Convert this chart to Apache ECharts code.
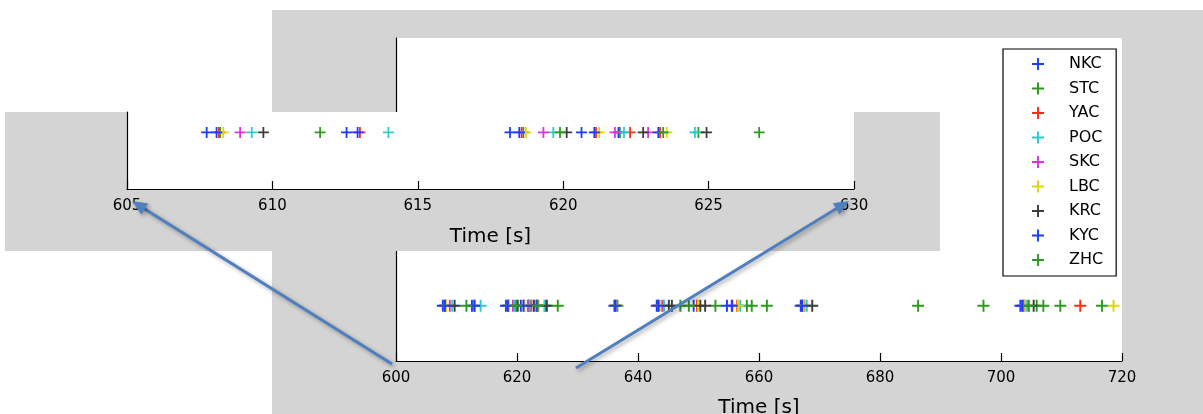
<!DOCTYPE html>
<html>
<head>
<meta charset="utf-8">
<title>Arrival times</title>
<script src="https://cdn.jsdelivr.net/npm/echarts@6/dist/echarts.min.js"></script>
<style>
  html, body { margin: 0; padding: 0; background: #fff; }
  #chart { width: 1203px; height: 414px; }
</style>
</head>
<body>
<div id="chart"></div>
<script>
// station names and colours (legend order)
var stations = ['NKC', 'STC', 'YAC', 'POC', 'SKC', 'LBC', 'KRC', 'KYC', 'ZHC'];
var colors = ['#1a3cff', '#2b9a1f', '#ff2a12', '#2ccccc', '#dd33dd', '#d9d900', '#3c3c3c', '#1a3cff', '#2b9a1f'];

// picked times [s] per station
var NKC = [607.74, 612.55, 618.17, 620.63, 621.9, 636.1, 643.1, 649.2, 654.7, 666.9, 703.2];
var STC = [608.2, 618.63, 621.95, 624.65, 636.6, 647.0, 652.8, 658.0, 667.3, 686.3, 705.9, 716.7];
var YAC = [608.16, 613.01, 618.57, 621.13, 622.3, 623.33, 636.35, 643.3, 649.75, 656.4, 667.2, 703.7, 713.1];
var POC = [609.29, 613.99, 619.66, 622.09, 624.53, 644.3, 656.9, 667.9, 704.3];
var SKC = [608.89, 619.32, 621.78, 622.92, 644.0, 655.6, 667.5, 703.8];
var LBC = [608.31, 618.72, 621.24, 623.56, 636.4, 643.6, 649.9, 656.5, 667.4, 704.0, 718.6];
var KRC = [609.69, 620.12, 622.75, 624.93, 645.1, 645.6, 650.3, 651.1, 668.8, 705.4];
var KYC = [608.08, 612.93, 618.49, 621.07, 623.27, 636.3, 643.4, 655.5, 667.1, 703.5];
var ZHC = [611.64, 619.89, 623.44, 626.74, 648.4, 658.8, 661.3, 697.1, 704.6, 707.0, 709.8];
var times = [NKC, STC, YAC, POC, SKC, LBC, KRC, KYC, ZHC];

// axis ticks
var mainTicks = [600, 620, 640, 660, 680, 700, 720];
var zoomTicks = [605, 610, 615, 620, 625, 630];

var plus = 'path://M4.2,0H5.8V4.2H10V5.8H5.8V10H4.2V5.8H0V4.2H4.2Z';
var font = 'DejaVu Sans';

function arrow(x1, y1, x2, y2) {
  var dx = x2 - x1, dy = y2 - y1;
  var len = Math.sqrt(dx * dx + dy * dy);
  var ux = dx / len, uy = dy / len;
  var hl = 15, hw = 6.5;
  var bx = x2 - ux * hl, by = y2 - uy * hl;
  var shadow = { shadowBlur: 4, shadowColor: 'rgba(0,0,0,0.35)', shadowOffsetX: 2, shadowOffsetY: 2 };
  return [
    {
      type: 'line', z: 20,
      shape: { x1: x1, y1: y1, x2: bx, y2: by },
      style: Object.assign({ stroke: '#4f7fbf', lineWidth: 3 }, shadow)
    },
    {
      type: 'polygon', z: 21,
      shape: { points: [[x2, y2], [bx - uy * hw, by + ux * hw], [bx + uy * hw, by - ux * hw]] },
      style: Object.assign({ fill: '#4f7fbf' }, shadow)
    }
  ];
}

var series = [];
stations.forEach(function (name, i) {
  var pts = times[i].map(function (t) { return [t, 1]; });
  series.push({
    name: name, type: 'scatter', xAxisIndex: 0, yAxisIndex: 0, z: 3,
    symbol: plus, symbolSize: 12, clip: true, data: pts,
    itemStyle: { color: colors[i], opacity: 1 }
  });
  series.push({
    name: name, type: 'scatter', xAxisIndex: 1, yAxisIndex: 1, z: 8,
    symbol: plus, symbolSize: 11, clip: true, data: pts,
    itemStyle: { color: colors[i], opacity: 1 }
  });
});

function xAxisOf(grid, ticks, gap, margin, z) {
  return {
    type: 'value', gridIndex: grid, z: z,
    min: ticks[0], max: ticks[ticks.length - 1], interval: ticks[1] - ticks[0],
    name: 'Time [s]', nameLocation: 'middle', nameGap: gap,
    nameTextStyle: { color: '#000', fontSize: 20, fontFamily: font },
    axisLine: { onZero: false, lineStyle: { color: '#000', width: 1.2 } },
    axisTick: { inside: true, length: 8, lineStyle: { color: '#000', width: 1.2 } },
    axisLabel: { color: '#000', fontSize: 15, fontFamily: font, margin: margin, showMinLabel: true, showMaxLabel: true },
    splitLine: { show: false }
  };
}

function yAxisOf(grid, max, z) {
  return {
    type: 'value', gridIndex: grid, z: z, min: 0, max: max,
    axisLine: { show: true, lineStyle: { color: '#000', width: 1.2 } },
    axisTick: { show: false }, axisLabel: { show: false }, splitLine: { show: false }
  };
}

var chart = echarts.init(document.getElementById('chart'));
chart.setOption({
  animation: false,
  backgroundColor: '#fff',
  graphic: [
    { type: 'rect', z: 0, shape: { x: 272, y: 10, width: 931, height: 404 }, style: { fill: '#d4d4d4' } },
    { type: 'rect', z: 5, shape: { x: 5, y: 112, width: 935, height: 139 }, style: { fill: '#d4d4d4' } }
  ].concat(arrow(392, 364, 132, 201), arrow(576, 368, 849, 201)),
  grid: [
    { left: 396, top: 38, right: 81, bottom: 53, show: true, backgroundColor: '#fff', borderWidth: 0, z: 1,
      containLabel: false, outerBoundsMode: 'none' },
    { left: 127, top: 112, right: 349, bottom: 225, show: true, backgroundColor: '#fff', borderWidth: 0, z: 6,
      containLabel: false, outerBoundsMode: 'none' }
  ],
  xAxis: [xAxisOf(0, mainTicks, 37, 10, 2), xAxisOf(1, zoomTicks, 38, 10, 7)],
  yAxis: [yAxisOf(0, 5.85, 2), yAxisOf(1, 1.36, 7)],
  legend: {
    data: stations.map(function (s) { return { name: s, icon: plus }; }),
    orient: 'vertical', left: 1003, top: 49, z: 3,
    itemWidth: 12, itemHeight: 12, itemGap: 8.5,
    padding: [7, 13, 8, 29],
    backgroundColor: '#fff', borderColor: '#000', borderWidth: 1.2, borderRadius: 0,
    textStyle: { color: '#000', fontSize: 16, fontFamily: font, padding: [0, 0, 0, 20] }
  },
  series: series
});
</script>
</body>
</html>
